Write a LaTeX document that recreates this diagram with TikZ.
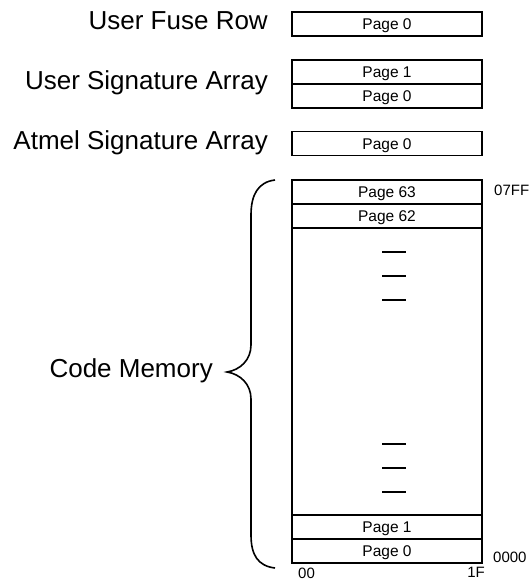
\documentclass[tikz,border=0pt]{standalone}
\usepackage{fontspec}
\setmainfont{Liberation Sans}
\usetikzlibrary{positioning}

\tikzset{
  page/.style={draw, rectangle, line width=1.7pt, minimum width=190pt, minimum height=24pt,
    inner sep=0pt, outer sep=0pt, text height=11pt, text depth=0pt,
    font=\fontsize{15.5}{18}\selectfont},
  region/.style={anchor=base east, inner sep=0pt, font=\fontsize{26}{30}\selectfont},
  addr/.style={inner sep=0pt, font=\fontsize{15}{18}\selectfont},
}

\begin{document}
\begin{tikzpicture}[x=1pt, y=-1pt]
    \useasboundingbox (0,0) rectangle (532,583);

    % fuse row
    \node [page] (fuse) at (387,24) {Page 0};
    \node [region] (fuselbl) at (268,30) {User Fuse Row};

    % user signature
    \node [page] (usig1) at (387,72) {Page 1};
    \node [page, below=0pt of usig1] (usig0) {Page 0};
    \node [region] (usiglbl) at (268,90) {User Signature Array};

    % atmel signature
    \node [page] (asig) at (387,143.5) {Page 0};
    \node [region] (asiglbl) at (268,149) {Atmel Signature Array};

    % code memory
    \node [page, minimum height=383pt] (cm) at (387,371.5) {};
    \node [page, below=0pt of cm.north] (p63) {Page 63};
    \node [page, below=0pt of p63] (p62) {Page 62};
    \node [page, above=0pt of cm.south] (p0) {Page 0};
    \node [page, above=0pt of p0] (p1) {Page 1};

    \foreach \y in {252,276,300,444,468,492}
        \draw [line width=2.4pt] (382,\y) -- (406,\y);

    \node [addr, anchor=base west] (hi) at (494,195) {07FF};
    \node [addr, anchor=base west] (lo) at (493,562) {0000};
    \node [addr, anchor=base west] (c0) at (298,578) {00};
    \node [addr, anchor=base east] (c1) at (485,577) {1F};

    \draw [line width=1.6pt] (275,180) .. controls (258,182) and (251,195) .. (251,215)
        -- (251,345) .. controls (251,360) and (240,370) .. (227,372)
        .. controls (240,374) and (251,384) .. (251,399)
        -- (251,535) .. controls (251,555) and (258,566) .. (275,568);
    \node [region] (cmlbl) at (213,377) {Code Memory};

\end{tikzpicture}
\end{document}
